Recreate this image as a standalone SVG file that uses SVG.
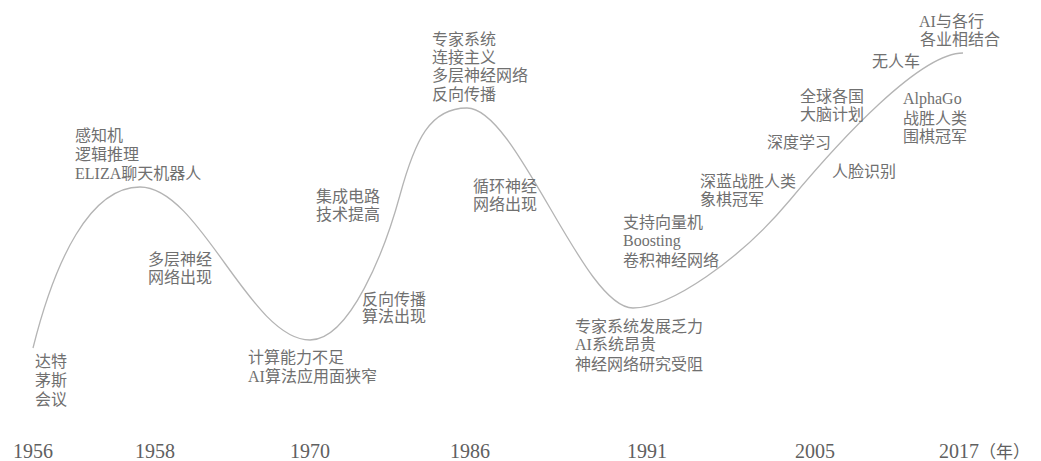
<svg xmlns="http://www.w3.org/2000/svg" width="1041" height="461" viewBox="0 0 1041 461">
<style>
.lbl{font-family:"Liberation Serif","Noto Sans CJK SC",serif;font-size:16px;fill:#707070}
.yr{font-family:"Liberation Serif","Noto Sans CJK SC",serif;font-size:20px;fill:#606060}
.curve{fill:none;stroke:#b4b4b4;stroke-width:1.3}
</style>
<rect width="1041" height="461" fill="#ffffff"/>
<g id="connectors">
<path class="curve" d="M33,348 C55,260 90,187 140,187 C200,187 250,340 310,340 C350,340 385,250 400,195 C415,140 430,108 467,108 C517,108 583,308 633,308 C670,308 740,260 790,200 C840,140 920,53 963,53"/>
</g>
<g id="n-dartmouth" class="lbl"><text x="35" y="367">达特</text><text x="35" y="386">茅斯</text><text x="35" y="405">会议</text></g>
<g id="n-perceptron" class="lbl"><text x="75" y="141">感知机</text><text x="75" y="160">逻辑推理</text><text x="75" y="179">ELIZA聊天机器人</text></g>
<g id="n-mlp1" class="lbl"><text x="148" y="265">多层神经</text><text x="148" y="283">网络出现</text></g>
<g id="n-compute" class="lbl"><text x="248" y="363">计算能力不足</text><text x="248" y="382">AI算法应用面狭窄</text></g>
<g id="n-ic" class="lbl"><text x="316" y="202">集成电路</text><text x="316" y="220">技术提高</text></g>
<g id="n-bp" class="lbl"><text x="362" y="305">反向传播</text><text x="362" y="322">算法出现</text></g>
<g id="n-expert" class="lbl"><text x="432" y="45">专家系统</text><text x="432" y="63">连接主义</text><text x="432" y="81">多层神经网络</text><text x="432" y="100">反向传播</text></g>
<g id="n-rnn" class="lbl"><text x="473" y="192">循环神经</text><text x="473" y="210">网络出现</text></g>
<g id="n-svm" class="lbl"><text x="623" y="228">支持向量机</text><text x="623" y="246">Boosting</text><text x="623" y="266">卷积神经网络</text></g>
<g id="n-decline" class="lbl"><text x="575" y="332">专家系统发展乏力</text><text x="575" y="350">AI系统昂贵</text><text x="575" y="370">神经网络研究受阻</text></g>
<g id="n-deepblue" class="lbl"><text x="700" y="187">深蓝战胜人类</text><text x="700" y="205">象棋冠军</text></g>
<g id="n-dl" class="lbl"><text x="767" y="148">深度学习</text></g>
<g id="n-brain" class="lbl"><text x="800" y="102">全球各国</text><text x="800" y="120">大脑计划</text></g>
<g id="n-car" class="lbl"><text x="872" y="67">无人车</text></g>
<g id="n-industry" class="lbl"><text x="919" y="27">AI与各行</text><text x="920" y="45">各业相结合</text></g>
<g id="n-alphago" class="lbl"><text x="903" y="104">AlphaGo</text><text x="903" y="124">战胜人类</text><text x="903" y="142">围棋冠军</text></g>
<g id="n-face" class="lbl"><text x="832" y="177">人脸识别</text></g>
<g id="axis" class="yr">
<text x="13" y="458">1956</text>
<text x="135" y="458">1958</text>
<text x="290" y="458">1970</text>
<text x="450" y="458">1986</text>
<text x="627" y="458">1991</text>
<text x="795" y="458">2005</text>
<text x="939" y="458">2017<tspan font-size="17">（年）</tspan></text>
</g>
</svg>
